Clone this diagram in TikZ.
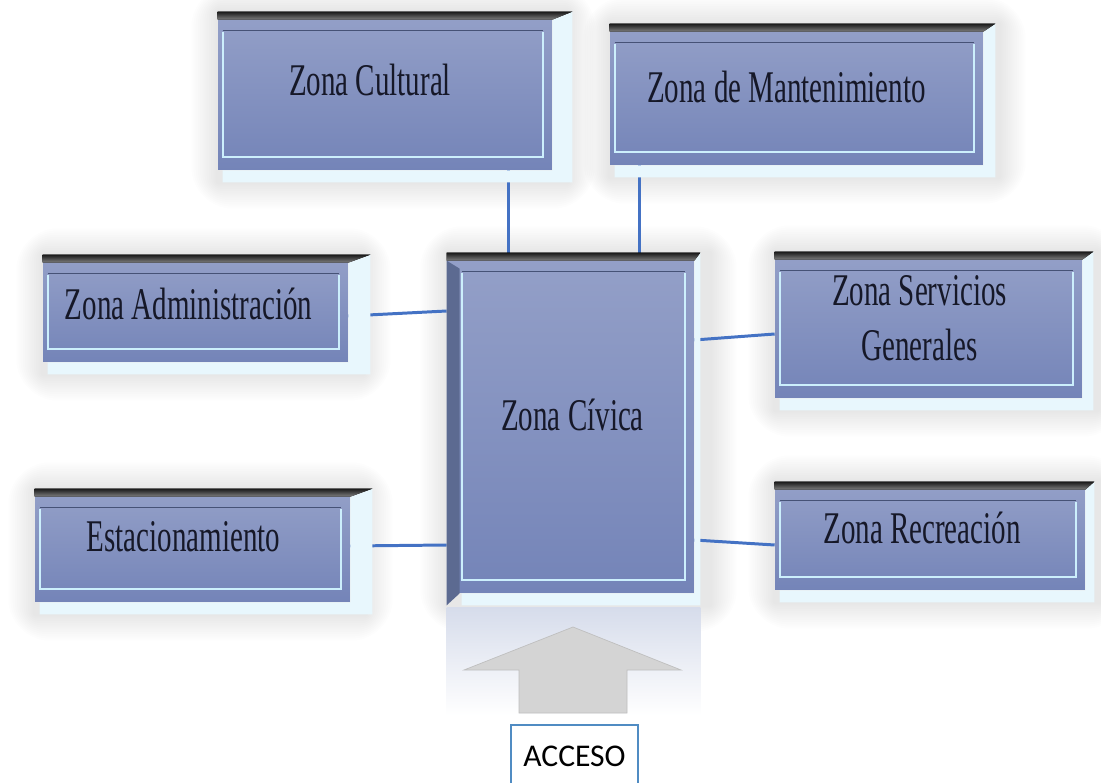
\documentclass[tikz,border=0pt]{standalone}
\usepackage{fontspec}
\newfontfamily\zonefont[FakeStretch=0.64]{Liberation Serif}
\newfontfamily\accfont{Carlito}
\usetikzlibrary{backgrounds,calc}

\definecolor{faceTop}{RGB}{148,160,200}
\definecolor{faceBot}{RGB}{116,132,184}
\definecolor{bevelLight}{RGB}{232,247,253}
\definecolor{bevelSlate}{RGB}{92,106,145}
\definecolor{innerDark}{RGB}{70,82,118}
\definecolor{linkBlue}{RGB}{68,114,196}
\definecolor{accBlue}{RGB}{80,140,195}
\definecolor{arrowGray}{RGB}{212,212,212}
\definecolor{glowTop}{RGB}{214,220,235}
\definecolor{zoneInk}{RGB}{22,24,40}

\begin{document}
\begin{tikzpicture}[x=0.02cm, y=-0.02cm,
    zona/.style={rectangle, inner sep=0pt, top color=faceTop, bottom color=faceBot},
    zonetext/.style={font=\zonefont\fontsize{25.8}{31}\selectfont, text=zoneInk, align=center},
    link/.style={draw=linkBlue, line width=1.7pt},
    topedge/.style={top color=black!90, bottom color=black!50},
    innerline/.style={draw=white!80!cyan, line width=1.1pt},
    acc/.style={draw=accBlue, line width=0.9pt, fill=white, minimum width=2.54cm, minimum height=1.24cm, font=\accfont\fontsize{18}{22}\selectfont}
]
\useasboundingbox (0,0) rectangle (1101,783);

% Zonas
\node[zona, minimum width=6.68cm, minimum height=3.16cm,
  label={[zonetext, xshift=-0.30cm, yshift=0.22cm]center:Zona Cultural}] (cultural) at (385,91) {};
\node[zona, minimum width=7.46cm, minimum height=2.82cm,
  label={[zonetext, xshift=-0.20cm, yshift=0.16cm]center:Zona de Mantenimiento}] (manten) at (796.5,94.5) {};
\node[zona, minimum width=6.10cm, minimum height=2.14cm,
  label={[zonetext, xshift=-0.14cm, yshift=0.10cm]center:Zona Administración}] (admin) at (195.5,308.5) {};
\node[zona, minimum width=6.14cm, minimum height=2.92cm,
  label={[zonetext, xshift=-0.18cm, yshift=0.14cm]center:Zona Servicios\\Generales}] (serv) at (928.5,325) {};
\node[zona, minimum width=4.94cm, minimum height=6.80cm,
  label={[zonetext, xshift=0.04cm, yshift=0.16cm]center:Zona Cívica}] (civica) at (570.5,423) {};
\node[zona, minimum width=6.30cm, minimum height=2.26cm,
  label={[zonetext, xshift=-0.18cm, yshift=0.18cm]center:Estacionamiento}] (estac) at (192.5,545.5) {};
\node[zona, minimum width=6.20cm, minimum height=2.16cm,
  label={[zonetext, xshift=-0.16cm, yshift=0.16cm]center:Zona Recreación}] (recre) at (930,536) {};

% left bevel of the central zone
\fill[bevelSlate] ([shift={(0,8)}]civica.north west) -- ([shift={(13,16)}]civica.north west)
  -- ([shift={(13,0)}]civica.south west) -- ([shift={(0,12)}]civica.south west) -- cycle;

% bevels and inner frames
\foreach \z/\r/\li in {cultural/20/5, manten/12/5, admin/22/5, serv/11/5, civica/6/15, estac/22/5, recre/9/5} {
  \fill[bevelLight] ([shift={(0,8)}]\z.north east) -- ([shift={(\r,0)}]\z.north east)
    -- ([shift={(\r,12)}]\z.south east) -- ([shift={(\li,12)}]\z.south west)
    -- ([shift={(\li,0)}]\z.south west) -- (\z.south east) -- cycle;
  \fill[topedge] (\z.north west) -- ([shift={(\r,0)}]\z.north east)
    -- ([shift={(0,8)}]\z.north east) -- ([shift={(0,8)}]\z.north west) -- cycle;
  \draw[innerDark, line width=0.8pt] ([shift={(\li,19)}]\z.north west) -- ([shift={(-9,19)}]\z.north east);
  \draw[innerline] ([shift={(\li,20)}]\z.north west) |- ([shift={(-9,-13)}]\z.south east)
    -- ([shift={(-9,20)}]\z.north east);
}

% reflection under the central zone
\shade[top color=glowTop, bottom color=white] ([shift={(0,14)}]civica.south west) rectangle ([shift={(6,122)}]civica.south east);

% Acceso
\node[acc] (acceso) at (574.5,756) {ACCESO};
\fill[arrowGray, draw=black!25, line width=0.4pt] (573,627) -- (681,670) -- (627,670) -- (627,713)
  -- (519,713) -- (519,670) -- (464,670) -- cycle;

\begin{scope}[on background layer]
  % soft halo round the zones
  \foreach \z in {cultural,manten,admin,serv,civica,estac,recre}
    \foreach \k in {1,...,12}
      \fill[black, opacity=0.009, rounded corners=2*\k] ([shift={(-2.2*\k,-2.2*\k)}]\z.north west) rectangle ([shift={(2.2*\k+16,2.2*\k+12)}]\z.south east);
  % links
  \draw[link] (cultural.south -| 508,0) -- (civica.north -| 508,0);
  \draw[link] (manten.south -| 639,0) -- (civica.north -| 639,0);
  \draw[link] (admin.east |- 0,316) -- (civica.west |- 0,311);
  \draw[link] (civica.east |- 0,340) -- (serv.west |- 0,334);
  \draw[link] (estac.east |- 0,546) -- (civica.west |- 0,545);
  \draw[link] (civica.east |- 0,540) -- (recre.west |- 0,545);
\end{scope}

\end{tikzpicture}
\end{document}
